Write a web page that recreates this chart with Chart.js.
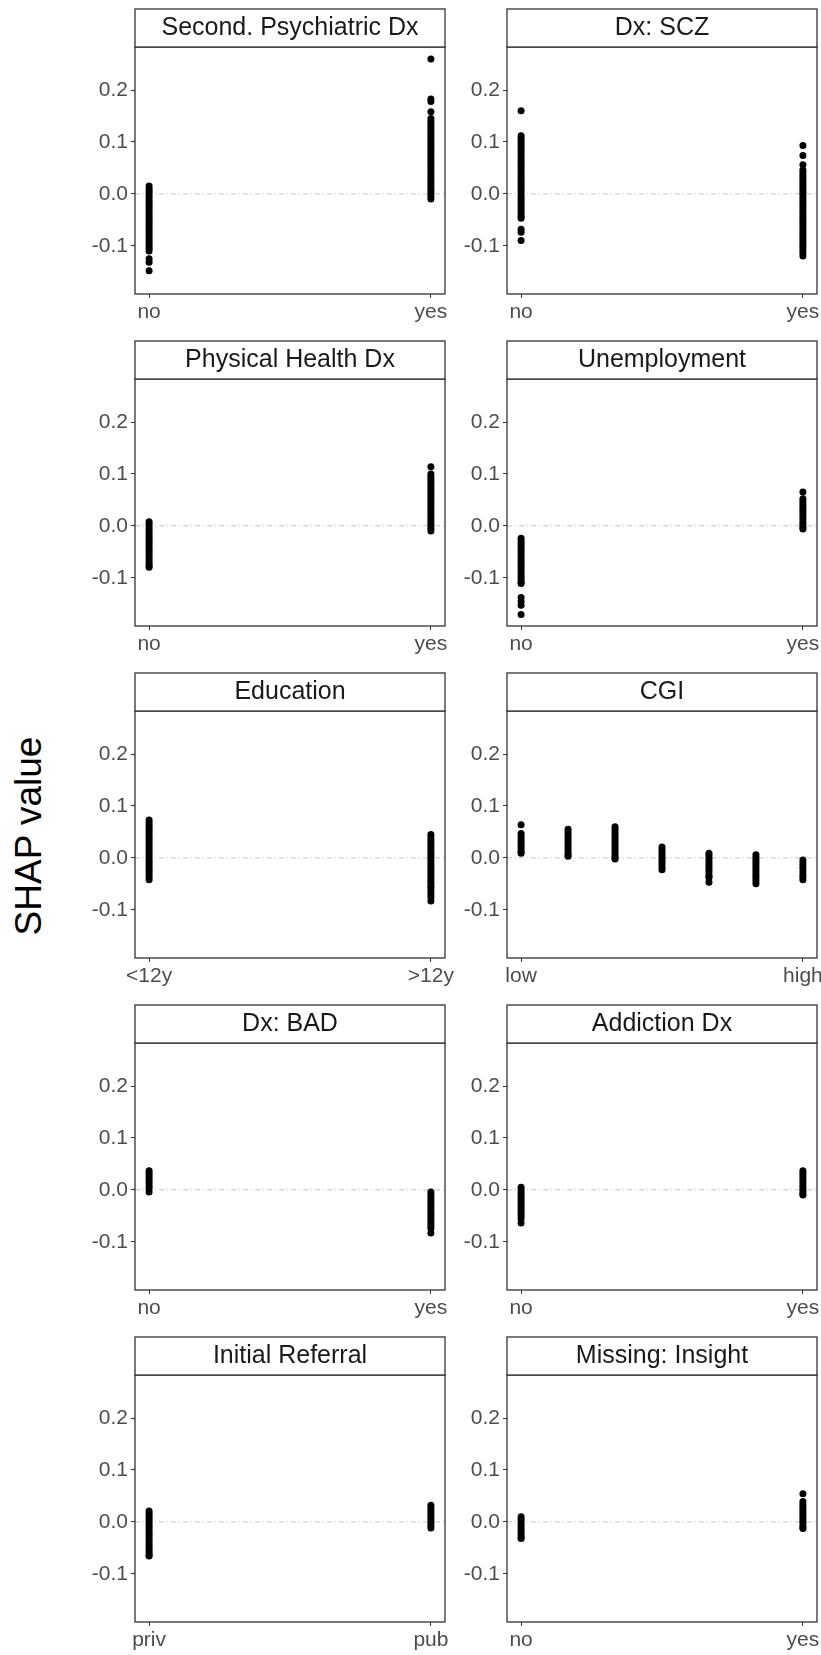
<!DOCTYPE html>
<html>
<head>
<meta charset="utf-8">
<script src="https://cdn.jsdelivr.net/npm/chart.js@4.4.1/dist/chart.umd.min.js"></script>
<style>
  html, body { margin: 0; padding: 0; background: #fff; overflow: hidden; }
  body { width: 821px; height: 1655px; position: relative; font-family: "Liberation Sans", Arial, sans-serif; }
  .panel { position: absolute; }
  #ytitle {
    position: absolute; left: 29px; top: 836px;
    transform: translate(-50%, -50%) rotate(-90deg);
    font-size: 37px; white-space: nowrap; color: #000;
  }
</style>
</head>
<body>
<div id="ytitle">SHAP value</div>
<script>
// facet titles, in reading order (left to right, top to bottom)
const panelTitles = [
  'Second. Psychiatric Dx', 'Dx: SCZ',
  'Physical Health Dx', 'Unemployment',
  'Education', 'CGI',
  'Dx: BAD', 'Addiction Dx',
  'Initial Referral', 'Missing: Insight'
];

// x tick labels for first / last group of each panel
const xTickLabels = [
  ['no', 'yes'], ['no', 'yes'],
  ['no', 'yes'], ['no', 'yes'],
  ['<12y', '>12y'], ['low', 'high'],
  ['no', 'yes'], ['no', 'yes'],
  ['priv', 'pub'], ['no', 'yes']
];

const yTickValues = [-0.1, 0, 0.1, 0.2];

// SHAP values, one list per group
const psychDx = [
  [0.015, 0.01, 0.005, 0, -0.005, -0.01, -0.015, -0.02, -0.025, -0.03, -0.035, -0.04, -0.045, -0.05, -0.055, -0.06, -0.065, -0.07, -0.075, -0.08, -0.085, -0.09, -0.095, -0.1, -0.105, -0.11, -0.125, -0.132, -0.148],
  [0.26, 0.183, 0.178, 0.158, 0.145, 0.14, 0.135, 0.13, 0.125, 0.12, 0.115, 0.11, 0.105, 0.1, 0.095, 0.09, 0.085, 0.08, 0.075, 0.07, 0.065, 0.06, 0.055, 0.05, 0.045, 0.04, 0.035, 0.03, 0.025, 0.02, 0.015, 0.01, 0.005, 0, -0.005, -0.01]
];
const dxScz = [
  [0.16, 0.112, 0.107, 0.102, 0.097, 0.092, 0.087, 0.082, 0.077, 0.072, 0.067, 0.062, 0.057, 0.052, 0.047, 0.042, 0.037, 0.032, 0.027, 0.022, 0.017, 0.012, 0.007, 0.002, -0.003, -0.008, -0.013, -0.018, -0.023, -0.028, -0.033, -0.038, -0.043, -0.047, -0.068, -0.074, -0.09],
  [0.093, 0.074, 0.056, 0.046, 0.041, 0.036, 0.031, 0.026, 0.021, 0.016, 0.011, 0.006, 0.001, -0.004, -0.009, -0.014, -0.019, -0.024, -0.029, -0.034, -0.039, -0.044, -0.049, -0.054, -0.059, -0.064, -0.069, -0.074, -0.079, -0.084, -0.089, -0.094, -0.099, -0.104, -0.109, -0.114, -0.12]
];
const physHealth = [
  [0.008, 0.003, -0.002, -0.007, -0.012, -0.017, -0.022, -0.027, -0.032, -0.037, -0.042, -0.047, -0.052, -0.057, -0.062, -0.067, -0.072, -0.077, -0.08],
  [0.114, 0.1, 0.095, 0.09, 0.085, 0.08, 0.075, 0.07, 0.065, 0.06, 0.055, 0.05, 0.045, 0.04, 0.035, 0.03, 0.025, 0.02, 0.015, 0.01, 0.005, 0, -0.005, -0.01]
];
const unemployment = [
  [-0.024, -0.029, -0.034, -0.039, -0.044, -0.049, -0.054, -0.059, -0.064, -0.069, -0.074, -0.079, -0.084, -0.089, -0.094, -0.099, -0.104, -0.109, -0.111, -0.138, -0.146, -0.153, -0.171],
  [0.065, 0.052, 0.047, 0.042, 0.037, 0.032, 0.027, 0.022, 0.017, 0.012, 0.007, 0.002, -0.003, -0.006]
];
const education = [
  [0.073, 0.068, 0.063, 0.058, 0.053, 0.048, 0.043, 0.038, 0.033, 0.028, 0.023, 0.018, 0.013, 0.008, 0.003, -0.002, -0.007, -0.012, -0.017, -0.022, -0.027, -0.032, -0.037, -0.042],
  [0.045, 0.04, 0.035, 0.03, 0.025, 0.02, 0.015, 0.01, 0.005, 0, -0.005, -0.01, -0.015, -0.02, -0.025, -0.03, -0.035, -0.04, -0.045, -0.05, -0.055, -0.058, -0.064, -0.07, -0.076, -0.083]
];
const cgi = [
  [0.064, 0.047, 0.042, 0.037, 0.032, 0.027, 0.022, 0.017, 0.012, 0.009],
  [0.055, 0.05, 0.045, 0.04, 0.035, 0.03, 0.025, 0.02, 0.015, 0.01, 0.005, 0.003],
  [0.06, 0.055, 0.05, 0.045, 0.04, 0.035, 0.03, 0.025, 0.02, 0.015, 0.01, 0.005, 0, -0.002],
  [0.021, 0.016, 0.011, 0.006, 0.001, -0.004, -0.009, -0.014, -0.019, -0.023],
  [0.009, 0.004, -0.001, -0.006, -0.011, -0.016, -0.021, -0.026, -0.031, -0.036, -0.038, -0.047],
  [0.006, 0.001, -0.004, -0.009, -0.014, -0.019, -0.024, -0.029, -0.034, -0.039, -0.044, -0.05],
  [-0.004, -0.01, -0.015, -0.02, -0.027, -0.033, -0.037, -0.042]
];
const dxBad = [
  [0.037, 0.032, 0.027, 0.022, 0.017, 0.012, 0.007, 0.002, -0.004],
  [-0.004, -0.009, -0.014, -0.019, -0.024, -0.029, -0.034, -0.039, -0.044, -0.049, -0.054, -0.059, -0.064, -0.069, -0.074, -0.083]
];
const addictionDx = [
  [0.005, 0, -0.005, -0.01, -0.015, -0.02, -0.025, -0.03, -0.035, -0.04, -0.045, -0.05, -0.055, -0.064],
  [0.037, 0.032, 0.027, 0.022, 0.017, 0.012, 0.007, 0.002, -0.003, -0.008, -0.01]
];
const referral = [
  [0.021, 0.016, 0.011, 0.006, 0.001, -0.004, -0.009, -0.014, -0.019, -0.024, -0.029, -0.034, -0.039, -0.044, -0.049, -0.054, -0.059, -0.064, -0.066],
  [0.032, 0.027, 0.022, 0.017, 0.012, 0.007, 0.002, -0.003, -0.008, -0.012]
];
const missingInsight = [
  [0.01, 0.005, 0, -0.005, -0.01, -0.015, -0.02, -0.025, -0.03, -0.032],
  [0.054, 0.039, 0.034, 0.029, 0.024, 0.019, 0.014, 0.009, 0.004, -0.001, -0.006, -0.011, -0.013]
];

const panelData = [psychDx, dxScz, physHealth, unemployment, education, cgi, dxBad, addictionDx, referral, missingInsight];

const FONT = '"Liberation Sans", Arial, sans-serif';
const STRIP_H = 39;
const PLOT_H = 247;
const AXIS_W = 60;
const AXIS_H = 36;
const PAD_R = 14;
const PLOT_W = 310;
const colLeft = [135, 507];

// draws the panel border and the facet strip on top
const stripPlugin = {
  id: 'strip',
  afterDraw(chart, args, opts) {
    const ctx = chart.ctx;
    const a = chart.chartArea;
    ctx.save();
    ctx.strokeStyle = '#333333';
    ctx.lineWidth = 1.3;
    ctx.strokeRect(a.left, a.top, a.right - a.left, a.bottom - a.top);
    ctx.fillStyle = '#ffffff';
    ctx.fillRect(a.left, 1, a.right - a.left, a.top - 1);
    ctx.strokeRect(a.left, 1, a.right - a.left, a.top - 1);
    ctx.fillStyle = '#1a1a1a';
    ctx.font = '25px ' + FONT;
    ctx.textAlign = 'center';
    ctx.textBaseline = 'middle';
    ctx.fillText(opts.text, (a.left + a.right) / 2, a.top / 2 + 1);
    ctx.restore();
  }
};

function dibujarPanel(i) {
  const col = i % 2;
  const row = Math.floor(i / 2);
  const groups = panelData[i];
  const nGroups = groups.length;
  const span = nGroups - 1;
  const xMin = -0.05 * span;
  const xMax = span + 0.05 * span;
  const labels = xTickLabels[i];

  const wrap = document.createElement('div');
  wrap.className = 'panel';
  wrap.style.left = (colLeft[col] - AXIS_W) + 'px';
  wrap.style.top = (8 + 332 * row) + 'px';
  wrap.style.width = (AXIS_W + PLOT_W + PAD_R) + 'px';
  wrap.style.height = (STRIP_H + PLOT_H + AXIS_H) + 'px';
  const canvas = document.createElement('canvas');
  wrap.appendChild(canvas);
  document.body.appendChild(wrap);

  const points = [];
  groups.forEach((vals, g) => {
    vals.forEach(v => points.push({ x: g, y: v }));
  });

  new Chart(canvas, {
    type: 'scatter',
    data: {
      datasets: [
        {
          data: points,
          backgroundColor: '#000000',
          borderWidth: 0,
          pointRadius: 3.5,
          order: 1
        },
        {
          type: 'line',
          data: [{ x: xMin, y: 0 }, { x: xMax, y: 0 }],
          borderColor: '#c6c6c6',
          borderWidth: 1,
          borderDash: [5, 3, 1, 3],
          pointRadius: 0,
          order: 2
        }
      ]
    },
    options: {
      animation: false,
      responsive: true,
      maintainAspectRatio: false,
      layout: { padding: { top: STRIP_H, right: PAD_R, left: 0, bottom: 0 } },
      plugins: {
        legend: { display: false },
        tooltip: { enabled: false },
        strip: { text: panelTitles[i] }
      },
      scales: {
        x: {
          type: 'linear',
          min: xMin,
          max: xMax,
          afterBuildTicks: s => { s.ticks = [{ value: 0 }, { value: span }]; },
          afterFit: s => { s.height = AXIS_H; s.paddingLeft = 0; s.paddingRight = 0; },
          ticks: {
            callback: (v, idx) => labels[idx],
            font: { size: 21, family: FONT },
            color: '#4d4d4d',
            padding: 2,
            maxRotation: 0,
            autoSkip: false
          },
          grid: { drawOnChartArea: false, tickLength: 4, color: '#333333' },
          border: { display: false }
        },
        y: {
          type: 'linear',
          min: -0.193,
          max: 0.283,
          afterBuildTicks: s => { s.ticks = yTickValues.map(v => ({ value: v })); },
          afterFit: s => { s.width = AXIS_W; s.paddingTop = 0; s.paddingBottom = 0; },
          ticks: {
            callback: v => v.toFixed(1),
            font: { size: 21, family: FONT },
            color: '#4d4d4d',
            padding: 3,
            autoSkip: false
          },
          grid: { drawOnChartArea: false, tickLength: 4, color: '#333333' },
          border: { display: false }
        }
      }
    },
    plugins: [stripPlugin]
  });
}

for (let i = 0; i < panelTitles.length; i++) dibujarPanel(i);
</script>
</body>
</html>
